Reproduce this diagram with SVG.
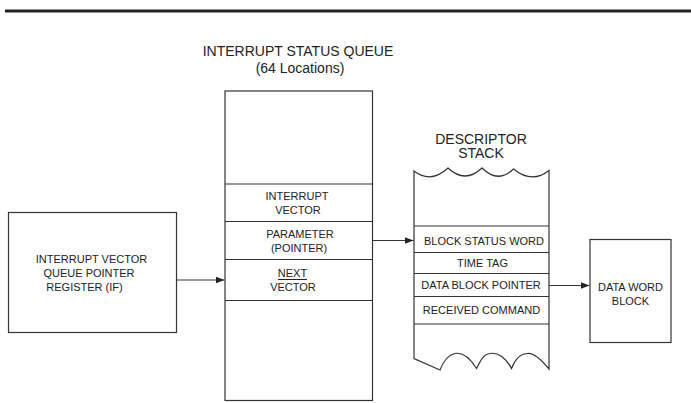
<svg xmlns="http://www.w3.org/2000/svg" width="691" height="403" viewBox="0 0 691 403">
<defs>
<style>
.t{font-family:"Liberation Sans",Arial,sans-serif;font-size:11px;fill:#222;text-anchor:middle}
.h{font-size:14px}
.b{fill:#fff;stroke:#333;stroke-width:1.2}
.l{fill:none;stroke:#333;stroke-width:1.2}
</style>
<marker id="ah" markerWidth="10" markerHeight="8" refX="9" refY="4" orient="auto" markerUnits="userSpaceOnUse">
<path d="M0,0.5 L9,4 L0,7.5 Z" fill="#222"/>
</marker>
</defs>
<rect width="691" height="403" fill="#fff"/>
<rect x="5" y="9.5" width="686" height="3" fill="#222"/>

<g id="queue">
<text class="t h" x="298" y="56">INTERRUPT STATUS QUEUE</text>
<text class="t h" x="300" y="73">(64 Locations)</text>
<rect class="b" x="225" y="91" width="147.5" height="309.5"/>
<line class="l" x1="225" y1="184" x2="372.5" y2="184"/>
<line class="l" x1="225" y1="221.5" x2="372.5" y2="221.5"/>
<line class="l" x1="225" y1="259.5" x2="372.5" y2="259.5"/>
<line class="l" x1="225" y1="300.5" x2="372.5" y2="300.5"/>
<text class="t" x="297" y="200">INTERRUPT</text>
<text class="t" x="298" y="214">VECTOR</text>
<text class="t" x="300" y="238">PARAMETER</text>
<text class="t" x="299" y="252">(POINTER)</text>
<text class="t" x="292.5" y="277">NEXT</text>
<line x1="278" y1="279.5" x2="307" y2="279.5" stroke="#222" stroke-width="1"/>
<text class="t" x="293" y="291">VECTOR</text>
</g>

<g id="register">
<rect class="b" x="8.5" y="212.5" width="168" height="120"/>
<text class="t" x="91.5" y="263">INTERRUPT VECTOR</text>
<text class="t" x="89" y="277">QUEUE POINTER</text>
<text class="t" x="84.5" y="291">REGISTER (IF)</text>
</g>

<g id="stack">
<text class="t h" x="481" y="143.5">DESCRIPTOR</text>
<text class="t h" x="481" y="158">STACK</text>
<path class="b" d="M414,171 Q431,184 448,168 Q465,184 482,168 Q498,184 513.5,169 Q532,184 549,170.5 L549,369 C540,358 533,352 527,353.5 C518,354 514,362 511.5,368.5 C506,358 498,352 490,353.5 C483,354 480,362 476.5,368.5 C470,358 462,352 455,353.5 C448,355 443,362 440,370 L414,358.5 Z"/>
<line class="l" x1="414" y1="226" x2="549" y2="226"/>
<line class="l" x1="414" y1="252.5" x2="549" y2="252.5"/>
<line class="l" x1="414" y1="273.5" x2="549" y2="273.5"/>
<line class="l" x1="414" y1="296.5" x2="549" y2="296.5"/>
<line class="l" x1="414" y1="324" x2="549" y2="324"/>
<text class="t" x="484" y="245">BLOCK STATUS WORD</text>
<text class="t" x="482.5" y="267">TIME TAG</text>
<text class="t" x="481" y="289">DATA BLOCK POINTER</text>
<text class="t" x="481.5" y="314">RECEIVED COMMAND</text>
</g>

<g id="datablock">
<rect class="b" x="590" y="239.5" width="81" height="103"/>
<text class="t" x="630.5" y="291">DATA WORD</text>
<text class="t" x="630.5" y="305">BLOCK</text>
</g>

<g id="connectors">
<line class="l" x1="176.5" y1="280" x2="224.5" y2="280" marker-end="url(#ah)"/>
<line class="l" x1="372.5" y1="240.5" x2="413.5" y2="240.5" marker-end="url(#ah)"/>
<line class="l" x1="549" y1="285.5" x2="589.5" y2="285.5" marker-end="url(#ah)"/>
</g>
</svg>
